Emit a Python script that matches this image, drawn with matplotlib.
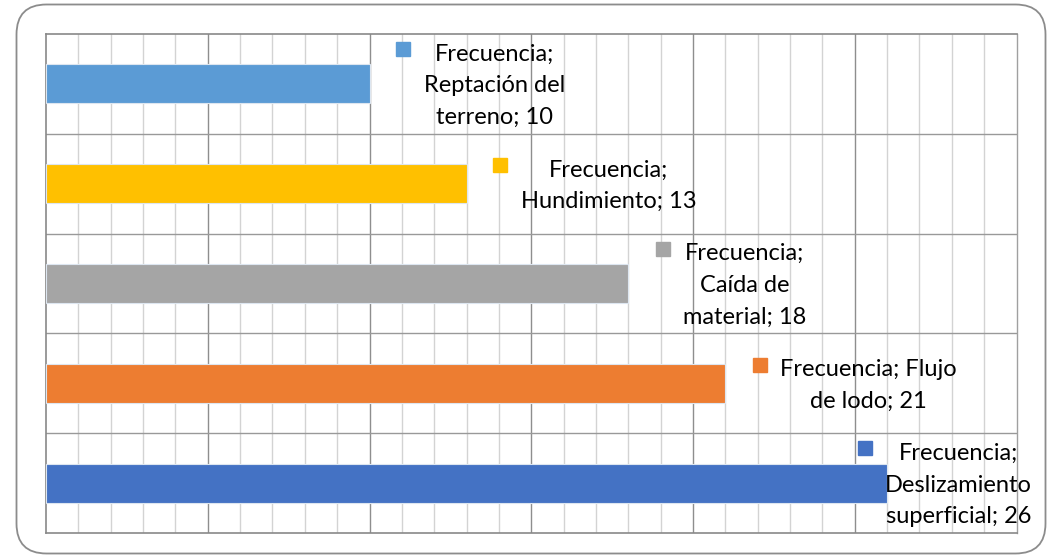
import matplotlib
matplotlib.use("Agg")
import matplotlib.pyplot as plt
from matplotlib.patches import FancyBboxPatch
from matplotlib.transforms import offset_copy
import numpy as np

# ---- data ----
categories = ["Reptación del terreno", "Hundimiento", "Caída de material",
              "Flujo de lodo", "Deslizamiento superficial"]
values = [10, 13, 18, 21, 26]
series_name = "Frecuencia"
label_texts = ["Frecuencia;\nReptación del\nterreno; 10",
               "Frecuencia;\nHundimiento; 13",
               "Frecuencia;\nCaída de\nmaterial; 18",
               "Frecuencia; Flujo\nde lodo; 21",
               "Frecuencia;\nDeslizamiento\nsuperficial; 26"]
colors = ["#5B9BD5", "#FFC000", "#A5A5A5", "#ED7D31", "#4472C4"]

# ---- style ----
label_dx = [27, 27, 28, 28, -29]   # pixel offset of legend key from bar end
W, H = 1055, 558
fig = plt.figure(figsize=(W / 100, H / 100), dpi=100)
plt.rcParams['font.family'] = ['Lato', 'DejaVu Sans']

# chart frame
frame = FancyBboxPatch((16.5, 4.5), 1029, 549, boxstyle="round,pad=0,rounding_size=30",
                       transform=None, facecolor="none", edgecolor="#8C8C8C", lw=1.3,
                       zorder=-1)
fig.patches.append(frame)

ax = fig.add_axes([46 / W, (H - 533) / H, (1016.5 - 46) / W, (533 - 34) / H])
ax.set_facecolor("none")
y = np.arange(len(values))
ax.barh(y, values, height=0.39, color=colors, edgecolor="#DDE6F0", lw=0.8, zorder=3)
ax.set_xlim(0, 30)
ax.set_ylim(len(values) - 0.5, -0.5)

for x in range(1, 30):
    ax.axvline(x, color="#8E8E8E" if x % 5 == 0 else "#D3D3D3", lw=1.0, zorder=1)
for yy in np.arange(0.5, len(values) - 0.5, 1):
    ax.axhline(yy, color="#999999", lw=1.0, zorder=1)

ax.set_xticks([])
ax.set_yticks([])
for s in ["left", "bottom", "top"]:
    ax.spines[s].set_color("#898989")
    ax.spines[s].set_linewidth(1.2)
ax.spines["right"].set_color("#A0A0A0")
ax.spines["right"].set_linewidth(1.0)

line_px = 33
for i, (v, txt, c, dx) in enumerate(zip(values, label_texts, colors, label_dx)):
    n = txt.count("\n") + 1
    sq_y = (n - 1) * line_px / 2 + 2
    tr_sq = offset_copy(ax.transData, fig=fig, x=dx + 6.5, y=sq_y, units='dots')
    ax.plot([v], [i], marker='s', markersize=9.4, color=c, transform=tr_sq,
            clip_on=False, zorder=5)
    tr_tx = offset_copy(ax.transData, fig=fig, x=dx + 13 + 14, y=-2, units='dots')
    ax.text(v, i, txt, transform=tr_tx, ha='left', va='center', multialignment='center',
            fontsize=17, linespacing=1.63, color="#000000", clip_on=False, zorder=5)

fig.savefig("out.png", dpi=100)
